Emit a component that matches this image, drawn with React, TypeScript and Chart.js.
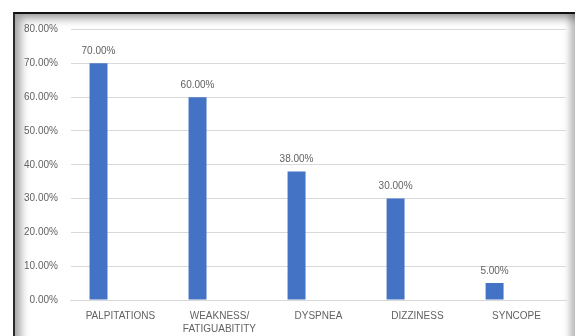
import React, { useEffect, useRef } from "react";
import { Chart, registerables } from "chart.js";

Chart.register(...registerables);

const categories: (string | string[])[] = [
  "PALPITATIONS",
  ["WEAKNESS/", "FATIGUABITITY"],
  "DYSPNEA",
  "DIZZINESS",
  "SYNCOPE",
];
const values: number[] = [70, 60, 38, 30, 5];
const emptySeries: (number | null)[] = [null, null, null, null, null];
const yMax = 80;
const yStep = 10;

const FONT = "'Liberation Sans', Arial, sans-serif";
const TEXT = "#626262";

const dataLabels = {
  id: "dataLabels",
  afterDatasetsDraw(chart: any) {
    const ctx = chart.ctx;
    const meta = chart.getDatasetMeta(0);
    ctx.save();
    ctx.font = `10px ${FONT}`;
    ctx.fillStyle = TEXT;
    ctx.textAlign = "center";
    ctx.textBaseline = "middle";
    meta.data.forEach((bar: any, i: number) => {
      ctx.fillText(values[i].toFixed(2) + "%", bar.x, bar.y - 12);
    });
    ctx.restore();
  },
};

export default function App() {
  const ref = useRef<HTMLCanvasElement>(null);
  useEffect(() => {
    if (!ref.current) return;
    const chart = new Chart(ref.current, {
      type: "bar",
      data: {
        labels: categories,
        datasets: [
          {
            data: values,
            backgroundColor: "#4472C4",
            categoryPercentage: 0.885,
            barPercentage: 0.41,
          },
          {
            data: emptySeries as any,
            backgroundColor: "#ED7D31",
            categoryPercentage: 0.885,
            barPercentage: 0.41,
          },
        ],
      },
      options: {
        animation: false,
        responsive: false,
        maintainAspectRatio: false,
        layout: { padding: { left: 11, right: 9, top: 29.5, bottom: 0 } },
        plugins: { legend: { display: false }, tooltip: { enabled: false } },
        scales: {
          x: {
            grid: { display: false, drawTicks: false },
            border: { display: true, color: "#d9d9d9", width: 1 },
            ticks: {
              color: TEXT,
              font: { family: FONT, size: 10, lineHeight: 1.35 },
              padding: 9,
              maxRotation: 0,
              autoSkip: false,
            },
          },
          y: {
            min: 0,
            max: yMax,
            border: { display: false },
            grid: { color: "#d9d9d9", drawTicks: false, lineWidth: 1 },
            ticks: {
              stepSize: yStep,
              color: TEXT,
              font: { family: FONT, size: 10 },
              padding: 13,
              callback: (v: any) => Number(v).toFixed(2) + "%",
            },
          },
        },
      },
      plugins: [dataLabels],
    });
    return () => chart.destroy();
  }, []);

  return (
    <div
      style={{
        position: "fixed",
        left: 0,
        top: 0,
        width: 575,
        height: 336,
        background: "#fff",
        overflow: "hidden",
      }}
    >
      <div
        style={{
          position: "absolute",
          left: 13,
          top: 12,
          right: 0,
          bottom: -20,
          borderTop: "2px solid #111",
          borderLeft: "2px solid #2a2a2a",
          boxShadow:
            "inset 8px 7px 9px -2px rgba(0,0,0,0.35), inset -8px 0 7px -3px rgba(0,0,0,0.28)",
        }}
      />
      <canvas
        ref={ref}
        width={575}
        height={345}
        style={{ position: "absolute", left: 0, top: 0, width: 575, height: 345 }}
      />
    </div>
  );
}
